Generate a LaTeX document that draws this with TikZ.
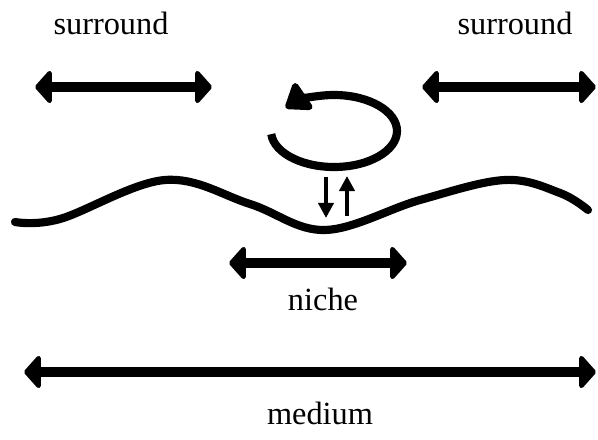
\documentclass[tikz,border=0pt]{standalone}
\usepackage{fontspec}
\setmainfont{Liberation Serif}
\usetikzlibrary{positioning, arrows.meta}

\begin{document}
\begin{tikzpicture}[x=0.025cm, y=0.025cm, font=\fontsize{23}{28}\selectfont]
\tikzstyle{span}=[line width=7pt, {Triangle[length=4.4mm, width=9.6mm, round]}-{Triangle[length=4.4mm, width=9.6mm, round]}]
\tikzstyle{flux}=[line width=3pt, -{Triangle[length=3.8mm, width=3.8mm]}]
\tikzstyle{label}=[inner sep=0pt]
\useasboundingbox (0,0) rectangle (598,440);
\node[label] (surrL) at (111,417) {surround};
\node[label] (surrR) at (515,417) {surround};
\node[label] (niche) at (323,141) {niche};
\node[label] (medium) at (320,27) {medium};
\coordinate (sL1) at (35,353); \coordinate (sL2) at (212,353);
\coordinate (sR1) at (422,353); \coordinate (sR2) at (596,353);
\coordinate (n1) at (229,177); \coordinate (n2) at (407,177);
\coordinate (m1) at (24,68); \coordinate (m2) at (596,68);
\coordinate (eddy) at (334,309);
\coordinate (dn1) at (326,263); \coordinate (dn2) at (326,222);
\coordinate (up1) at (347,224); \coordinate (up2) at (347,264);
\draw[span] (sL1) -- (sL2);
\draw[span] (sR1) -- (sR2);
\draw[span] (n1) -- (n2);
\draw[span] (m1) -- (m2);
\draw[line width=5.8pt, -{Triangle[length=6.4mm, width=9mm, round]}] ([shift={(185:63 and 36)}]eddy) arc[start angle=185, end angle=500, x radius=63, y radius=36];
\draw[flux] (dn1) -- (dn2);
\draw[flux] (up1) -- (up2);
\draw[line width=5.8pt, line cap=round] plot[smooth, tension=0.6] coordinates {(15,218) (60,221) (165,260) (250,236) (325,210) (420,240) (505,260) (560,247) (588,230)};
\end{tikzpicture}
\end{document}
